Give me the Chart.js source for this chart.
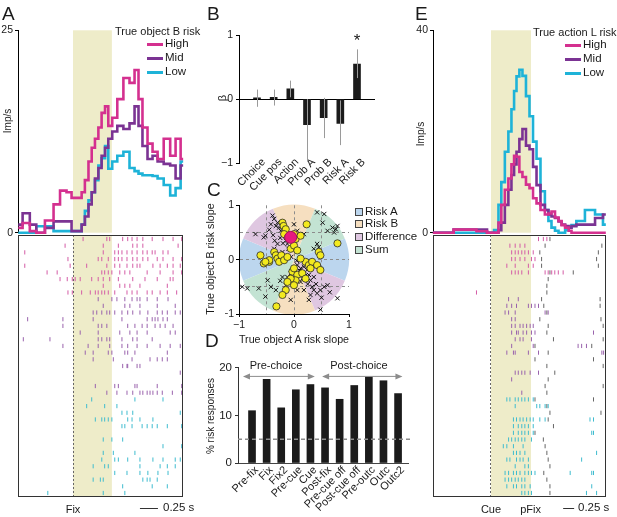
<!DOCTYPE html>
<html>
<head>
<meta charset="utf-8">
<title>Risk coding</title>
<script src="https://cdn.jsdelivr.net/npm/chart.js@4.4.1/dist/chart.umd.min.js"></script>
<style>
  html, body { margin: 0; padding: 0; background: #fff; }
  #fig { position: relative; width: 617px; height: 517px; overflow: hidden;
         font-family: "Liberation Sans", Arial, Helvetica, sans-serif; color: #1a1a1a; }
  #fig canvas { position: absolute; }
  .txt { position: absolute; white-space: nowrap; font-size: 11px; line-height: 1.15; }
  .key { position: absolute; height: 3px; width: 16px; }
  .sq { position: absolute; width: 6px; height: 6px; border: 1px solid #444; }
</style>
</head>
<body>
<div id="fig"></div>
<script>
// ---------- A: firing rate by true object B risk (time from fixation, s) ----------
const timeA = [-0.76,-0.64,-0.56,-0.46,-0.32,-0.22,-0.14,-0.04,0,0.10,0.14,0.19,0.24,0.28,0.33,0.375,0.42,0.47,0.51,0.58,0.65,0.75,0.82,0.89,0.93,1.0,1.07,1.14,1.21,1.31,1.39,1.46,1.53];
const highA = [0.6,1.2,0.2,0,1.5,3.5,5.2,5.0,4.3,4.3,5.0,6.5,8.8,10.5,11.6,13,14.8,15.6,13.2,14.2,16.5,19.1,18.5,20.1,16.5,13,11,10,9.1,11.6,9.5,11.6,9.1];
const midA  = [1,2.4,1,0,0.6,1.4,1.4,1.4,0.2,0.2,1,2,3.5,5,6.7,8,9.5,10.5,11.6,12.5,13.2,12.8,13.5,15.6,13.2,10.7,9.1,9.5,8.8,8.5,8.3,6.7,8.3];
const lowA  = [0,0,0,0.8,0.8,0.2,0.2,0.2,0.2,0.2,1,2.7,4.0,5.0,6.5,8.3,9.2,10.7,7.9,8.8,9.5,10,8,7.6,7.3,7.1,7.1,7,6.7,5.9,4.6,5.5,8.8];

// spike times per trial (s from fixation), grouped by risk level
const rasterA_high = [
  [0.14,0.47,0.51,0.69,0.76,0.82,0.89,0.97,1.10,1.25,1.39,1.51],
  [-0.11,0.42,0.63,0.83,0.89,0.97,1.46],
  [-0.67,0.42,0.58,0.63,0.68,0.75,0.82,0.89,0.97,1.03,1.10,1.14,1.25,1.32],
  [-0.07,0.35,0.40,0.49,0.58,0.63,0.68,0.75,0.83,0.89,0.97,1.04,1.17,1.25,1.39,1.51],
  [-0.67,-0.04,0.19,0.47,0.58,0.65,0.75,0.83,0.89,0.93,1.11,1.21,1.31,1.39,1.49],
  [-0.36,-0.22,0.40,0.44,0.49,0.54,0.65,0.72,0.79,1.03,1.21,1.39,1.51],
  [-0.18,-0.08,-0.01,0.03,0.10,0.26,0.35,0.42,0.51,0.63,0.83,1.00,1.17,1.35,1.39],
  [0.42,0.65,0.72,0.79,0.93,1.31],
  [-0.07,-0.01,0.12,0.24,0.31,0.35,0.40,0.44,0.49,0.58,0.75,0.82,0.89,1.03,1.10,1.21,1.31,1.44]
];
const rasterA_mid = [
  [0.35,0.54,0.61,0.72,0.82,0.89,0.93,1.03,1.17,1.32],
  [0.42,0.72,0.79,0.93,1.17,1.42],
  [0.28,0.33,0.40,0.47,0.51,0.58,0.68,0.76,0.83,0.93,1.04,1.17,1.24,1.31,1.42,1.49],
  [-0.63,-0.14,0.28,0.68,1.03,1.10,1.14,1.18,1.25,1.31],
  [-0.14,0.35,0.40,0.47,0.76,0.86,0.96,1.03,1.14,1.21,1.28,1.39],
  [0.10,0.35,0.65,0.79,0.89,1.03,1.35,1.42],
  [-0.69,-0.32,0.35,0.40,0.47,0.51,0.68,0.83,0.89,1.10],
  [-0.14,0.21,0.35,0.51,0.68,0.76,0.89,1.03,1.21,1.35,1.49],
  [0.17,0.28,0.49,0.54,0.72,0.76,0.86,1.31],
  [0.28,0.56,0.82,1.07,1.17,1.24,1.31],
  [0.69,0.75,0.76,0.89,0.93],
  [1.49],
  [],
  [0.31,0.58,0.63,0.86,0.89,1.17,1.51],
  [0.47,0.61,0.75,0.83,0.93,0.97,1.03,1.07,1.11,1.17,1.24,1.38,1.51]
];
const rasterA_low = [
  [0.26,0.86,1.25],
  [0.19,0.44,0.61],
  [0.68,0.75,0.83,1.49],
  [0.31,0.40,0.44,0.49,0.54,0.76,0.82,0.93,1.11],
  [0.68,0.72,0.82,0.96,1.03,1.10,1.17,1.31,1.51],
  [],
  [0.42,0.54,0.69],
  [1.25,1.51],
  [0.42,0.56,0.86],
  [0.40,0.58,0.63,0.76,0.93,1.11,1.25,1.42,1.49],
  [0.28,0.44,0.49,0.93,1.21,1.31,1.42],
  [0.58,0.75,0.93,1.04,1.18,1.32],
  [0.28,0.38,0.42,0.97,1.03,1.07,1.17],
  [0.69,1.10,1.31],
  [-0.35,0.42,0.72]
];

// ---------- B: regression coefficients ----------
const betaLabels = ['Choice','Cue pos','Action','Prob A','Prob B','Risk A','Risk B'];
const betaValues = [0.02,0.03,0.16,-0.40,-0.29,-0.38,0.55];
const betaLow    = [-0.12,-0.10,0.03,-0.98,-0.61,-0.72,0.33];
const betaHigh   = [0.15,0.15,0.29,0.0,0.02,-0.02,0.78];

// ---------- C: risk slopes, object A vs object B ----------
const zoneNames  = ['Risk A','Risk B','Difference','Sum'];
const zoneAngles = [0, 90, 135, 45];   // wedge centre (deg), each zone also owns the opposite wedge
const crossPts = [
  [-0.39,0.81],[-0.36,0.75],[-0.30,0.68],[-0.33,0.62],[-0.27,0.59],[-0.24,0.53],[-0.19,0.47],[-0.42,0.65],
  [-0.52,0.44],[-0.55,0.41],[-0.70,0.47],[-0.15,0.35],[-0.12,0.29],[-0.30,0.29],[-0.36,0.20],[-0.21,0.14],
  [-0.27,0.08],[0.00,0.65],[0.18,0.47],[0.06,0.53],[0.42,0.87],[0.55,0.84],[0.52,0.68],[0.61,0.53],
  [0.70,0.59],[0.76,0.56],[0.73,0.50],[0.79,0.62],[0.42,0.29],[0.45,0.23],[0.36,0.20],
  [0.06,-0.10],[0.12,-0.16],[0.18,-0.13],[0.24,-0.19],[0.27,-0.28],[0.30,-0.38],[0.33,-0.50],[0.36,-0.56],
  [0.42,-0.62],[0.48,-0.56],[0.55,-0.50],[0.61,-0.47],[0.36,-0.32],[0.48,-0.92],[0.79,-0.71],[0.21,-0.04],
  [-0.06,-0.25],[-0.12,-0.32],[-0.21,-0.32],[-0.25,-0.39],[-0.94,-0.50],[-0.85,-0.53],[-0.64,-0.53],
  [-0.52,-0.68],[-0.33,-0.56],[-0.15,-0.47],[-0.06,-0.74],[0.12,-0.41],[0.18,-0.56],[0.27,-0.74],
  [0.06,-0.56],[-0.42,-0.50],[-0.48,-0.38],[-0.45,0.55],[-0.38,0.45],[-0.25,0.40],[-0.20,0.30],
  [-0.10,0.20],[0.10,-0.20],[0.20,-0.30],[0.15,-0.35],[0.25,-0.45],[0.40,-0.45],[0.30,-0.65],
  [-0.35,0.35],[-0.05,0.05],[0.05,-0.02],[0.50,-0.70],[0.65,-0.60]
];
const yellowPts = [
  [-0.21,0.68],[-0.19,0.62],[-0.15,0.56],[-0.18,0.47],[-0.11,0.41],[0.00,0.47],[0.03,0.38],[0.12,0.44],
  [0.23,0.65],[0.79,0.30],[0.45,0.14],[0.48,0.08],[-0.61,0.08],[-0.55,-0.07],[-0.45,-0.04],[-0.36,0.14],
  [-0.33,0.08],[-0.30,0.02],[-0.27,-0.04],[-0.23,0.08],[-0.18,-0.01],[-0.12,0.05],[-0.06,0.20],[0.00,0.26],
  [0.06,0.17],[-0.03,-0.22],[0.00,-0.16],[0.06,-0.28],[0.03,-0.38],[-0.06,-0.35],[-0.12,-0.41],[-0.15,-0.56],
  [-0.21,-0.65],[-0.32,-0.86],[0.00,-0.47],[0.15,-0.25],[0.21,-0.04],[0.27,-0.10],[0.33,-0.04],[0.42,-0.10],
  [0.48,-0.19],[0.30,-0.16],[0.12,0.02],[-0.45,-0.01],[-0.52,-0.04],[0.21,-0.35]
];
const examplePt = [[-0.06,0.41]];

// ---------- D: percentage of risk responses by task epoch ----------
const epochLabels = ['Pre-fix','Fix','Fix2','Pre-cue','Cue','Post-fix','Pre-cue off','Post-cue off','Pre-outc','Outc','Outc2'];
const riskPct = [11.0,17.6,11.6,15.4,16.5,15.8,13.4,16.3,18.1,17.3,14.6];
const chancePct = 5;

// ---------- E: firing rate by true action L risk (time from cue, s) ----------
const timeE = [-1.32,-0.93,-0.77,-0.48,-0.18,0,0.14,0.2,0.27,0.36,0.43,0.5,0.55,0.61,0.68,0.75,0.84,0.91,1.0,1.07,1.18,1.27,1.34,1.41,1.5,1.57,1.64,1.73,1.8,1.86,2.02,2.25,2.48,2.61];
const highE = [0,0,0.6,0.6,0.3,0,0,2,5.5,8.5,10.7,13.5,15.2,15,12,11,9.5,8.8,6.8,5.8,4.5,3.6,3.8,4.2,3,2.3,1.5,1,0.4,0,0,0,0,0];
const midE  = [0,0,0.6,0.6,0.6,0,0,0.5,2,5.5,8.5,11.4,13.5,16,18.5,20.5,17.2,16.5,13,9.4,5.5,4.5,3.6,3.2,2.9,2.2,1.6,1.3,1,1.3,1.6,1.6,2.9,3.6];
const lowE  = [0,0,0,0,0,0,0.5,5.5,10,16,20,24.4,28,30.9,32.2,31,27,23,18,14.6,8.2,4.5,2.3,1,0.4,0,0,0.5,1,1.5,2.3,4.5,3.6,1.6];

const rasterE_high = [
  [1.08,1.19,1.27],
  [0.43,0.55,0.66,0.77],
  [0.47,0.55,0.62,0.70,0.77,0.85,0.96],
  [0.47,0.55,0.66,0.77,0.92,1.00],
  [0.36,0.55,0.85,0.96],
  [0.47,0.55,0.62,0.70,0.85,1.23,1.30,1.38,1.45,1.53,1.64],
  [],
  [],
  [-0.33]
];
const rasterE_mid = [
  [0.40,0.62],
  [0.36,0.47,0.58,0.85,0.92,1.00,1.08],
  [0.32,0.40,0.55,1.23,1.30],
  [0.47,0.55],
  [0.47,0.55,0.66,0.73,0.81,0.89,0.96],
  [0.47,0.58,0.62,0.73,0.81,0.92,1.00,2.33],
  [0.55,0.66,0.73,0.92],
  [0.47,0.96,1.98,2.06,2.17],
  [0.36,0.51,0.55,0.85,1.08,2.52,2.56],
  [],
  [],
  [0.55,0.62,0.70,0.77,0.89,1.08],
  [0.47],
  [],
  [0.70]
];
const rasterE_low = [
  [0.36,0.43,0.55,0.62,0.70,0.77,0.85,0.96],
  [0.55,1.04,1.11,1.23,1.30],
  [],
  [0.51,0.58,0.66,0.73,0.81,0.89,0.96,1.11,1.23,2.25,2.33],
  [0.51,0.62,0.70,0.77,0.85,0.96],
  [0.51,0.62,0.70,0.77,0.85,0.96,2.29,2.33],
  [0.40,0.47,0.55,0.62,0.70,0.77,0.92],
  [0.28,0.36,0.51,0.73],
  [0.51,0.58,0.66,0.77,2.40],
  [0.36,0.43,0.58,0.66,0.73,0.85,2.06],
  [0.55,0.77,0.85],
  [0.32,0.40,0.51,0.58,0.66,0.77,0.85,0.92,1.00,1.80,2.29,2.33],
  [0.32,0.40,0.47,0.55,0.62,0.70,0.77],
  [0.36,0.51,0.58,0.70,0.77,0.89,2.29],
  [0.70,0.77,0.85,0.92,2.17,2.40]
];
// trial event marks (post-fixation), one array per trial row
const eventsE = [
  [1.34],[1.23,2.52],[1.11,2.44],[1.15,2.40],[1.15,2.44],[1.34,1.87],[1.30],[1.27],[1.27],
  [1.15,2.48],[1.20,2.48],[1.27],[1.11,2.50],[1.30,2.55],[1.27],[1.42,2.55],[1.00,2.29],[1.30],
  [1.00,2.33],[1.27,2.55],[1.45],[1.30],[1.23,2.55],[1.27],
  [1.00,2.33],[1.27],[1.34,2.50],[1.30],[1.42],[1.00],[1.19],[1.23],[1.27],[1.30],[1.34],[1.20],[1.27],[1.34],[1.34]
];

// ---------- styles ----------
const COL = { high: '#d4308f', mid: '#7b3393', low: '#1eb3d8' };
const TICK_COL = { high: '#d45ca6', mid: '#9a63ad', low: '#3fbccf' };
const BAND = '#eeecc9';
const ZONE_COL = ['#bcd6ee', '#f6dfc0', '#dfc7e1', '#c3e3d3'];

Chart.defaults.font.family = '"Liberation Sans", Arial, Helvetica, sans-serif';
Chart.defaults.font.size = 11;
Chart.defaults.color = '#1a1a1a';
Chart.defaults.animation = false;
Chart.defaults.events = [];
Chart.defaults.plugins.legend.display = false;
Chart.defaults.plugins.tooltip.enabled = false;

const fig = document.getElementById('fig');
const fixW = w => s => { s.width = w; };
const fixH = h => s => { s.height = h; };
const minus = v => (v < 0 ? '\u2212' + Math.abs(v) : String(v));

// canvas placed so that the chart area lands on the given box
function makeCanvas(area, yW, xH, pad) {
  const c = document.createElement('canvas');
  c.width = pad.left + yW + (area.r - area.l) + pad.right;
  c.height = pad.top + (area.b - area.t) + xH + pad.bottom;
  c.style.left = (area.l - yW - pad.left) + 'px';
  c.style.top = (area.t - pad.top) + 'px';
  fig.appendChild(c);
  return c;
}

function addText(str, x, y, o = {}) {
  const d = document.createElement('div');
  d.className = 'txt';
  d.textContent = str;
  d.style.left = x + 'px';
  d.style.top = y + 'px';
  if (o.size) d.style.fontSize = o.size + 'px';
  const tx = o.align === 'left' ? '0' : '-50%';
  d.style.transform = 'translate(' + tx + ',-50%)' + (o.rot ? ' rotate(-90deg)' : '');
  fig.appendChild(d);
  return d;
}

// shaded epoch band
const bandPlugin = {
  id: 'band',
  beforeDraw(chart, args, opts) {
    const { ctx, chartArea: a, scales: { x } } = chart;
    const x0 = x.getPixelForValue(opts.from), x1 = x.getPixelForValue(opts.to);
    ctx.save();
    ctx.fillStyle = BAND;
    ctx.fillRect(x0, a.top, x1 - x0, a.bottom - a.top);
    ctx.restore();
  }
};

// raster box + time scale bar
const framePlugin = {
  id: 'frame',
  afterDraw(chart, args, opts) {
    const { ctx, chartArea: a, scales: { x } } = chart;
    ctx.save();
    ctx.strokeStyle = '#333';
    ctx.lineWidth = 1;
    ctx.strokeRect(a.left + 0.5, a.top + 0.5, a.right - a.left - 1, a.bottom - a.top - 1);
    const y = Math.round(a.bottom + 11) + 0.5;
    ctx.beginPath();
    ctx.moveTo(x.getPixelForValue(opts.barStart), y);
    ctx.lineTo(x.getPixelForValue(opts.barStart + opts.barLen), y);
    ctx.stroke();
    ctx.restore();
  }
};

function psthChart(area, time, series, yMax, xRange, band) {
  const pad = { left: 0, top: 8, right: 6, bottom: 6 };
  const c = makeCanvas(area, 18, 0, pad);
  return new Chart(c, {
    type: 'line',
    data: {
      datasets: series.map(s => ({
        data: time.map((t, i) => ({ x: t, y: s.values[i] })),
        borderColor: s.color, borderWidth: 2.6, pointRadius: 0, stepped: 'middle', clip: 6
      }))
    },
    options: {
      responsive: false,
      layout: { padding: pad },
      scales: {
        x: { type: 'linear', display: false, min: xRange[0], max: xRange[1] },
        y: {
          min: 0, max: yMax,
          afterBuildTicks: s => { s.ticks = [{ value: 0 }, { value: yMax }]; },
          ticks: { padding: 2, font: { size: 10.5 } },
          grid: { drawOnChartArea: false, tickLength: 3, color: '#000' },
          border: { color: '#000' },
          afterFit: fixW(18)
        }
      },
      plugins: { band }
    },
    plugins: [bandPlugin]
  });
}

function toPoints(rows, offset) {
  const pts = [];
  rows.forEach((row, i) => row.forEach(t => pts.push({ x: t, y: offset + i })));
  return pts;
}

function rasterChart(area, groups, marks, xRange, band, xTicks, bar) {
  const pad = { left: 5, top: 5, right: 5, bottom: 3 };
  const c = makeCanvas(area, 0, 22, pad);
  const datasets = [];
  let offset = 0;
  groups.forEach(g => {
    datasets.push({ data: toPoints(g.rows, offset), borderColor: g.color });
    offset += g.rows.length;
  });
  if (marks) datasets.push({ data: toPoints(marks, 0), borderColor: '#666' });
  datasets.forEach(d => Object.assign(d, { pointStyle: 'line', rotation: 90, radius: 2.1, borderWidth: 1 }));
  return new Chart(c, {
    type: 'scatter',
    data: { datasets },
    options: {
      responsive: false,
      layout: { padding: pad },
      scales: {
        x: {
          type: 'linear', min: xRange[0], max: xRange[1],
          afterBuildTicks: s => { s.ticks = xTicks.values.map(v => ({ value: v })); },
          ticks: { padding: 6, callback: v => xTicks.names[xTicks.values.indexOf(v)] },
          grid: { drawTicks: false, color: ctx => (ctx.tick && ctx.tick.value === 0 ? '#666' : 'transparent') },
          border: { display: false, dash: [2, 2] },
          afterFit: fixH(22)
        },
        y: { display: false, min: -0.6, max: offset - 0.4, reverse: true }
      },
      plugins: { band, frame: bar }
    },
    plugins: [bandPlugin, framePlugin]
  });
}

// ===== Panel A =====
const rangeA = [-0.764, 1.528];
rasterChart({ l: 18, t: 235, r: 183, b: 497 },
  [{ rows: rasterA_high, color: TICK_COL.high }, { rows: rasterA_mid, color: TICK_COL.mid }, { rows: rasterA_low, color: TICK_COL.low }],
  null, rangeA, { from: 0, to: 0.54 }, { values: [0], names: ['Fix'] }, { barStart: 0.93, barLen: 0.25 });
psthChart({ l: 18, t: 30, r: 183, b: 235 }, timeA,
  [{ values: highA, color: COL.high }, { values: midA, color: COL.mid }, { values: lowA, color: COL.low }],
  25, rangeA, { from: 0, to: 0.54 });

// ===== Panel E =====
const rangeE = [-1.318, 2.614];
rasterChart({ l: 433, t: 235, r: 606, b: 497 },
  [{ rows: rasterE_high, color: TICK_COL.high }, { rows: rasterE_mid, color: TICK_COL.mid }, { rows: rasterE_low, color: TICK_COL.low }],
  eventsE, rangeE, { from: 0, to: 0.91 }, { values: [0, 0.9], names: ['Cue', 'pFix'] }, { barStart: 1.64, barLen: 0.25 });
psthChart({ l: 433, t: 30, r: 606, b: 235 }, timeE,
  [{ values: highE, color: COL.high }, { values: midE, color: COL.mid }, { values: lowE, color: COL.low }],
  40, rangeE, { from: 0, to: 0.91 });

// ===== Panel B =====
const errorBarPlugin = {
  id: 'errorBars',
  afterDatasetsDraw(chart) {
    const { ctx, scales: { x, y } } = chart;
    ctx.save();
    ctx.strokeStyle = '#9a9a9a';
    ctx.lineWidth = 1;
    betaLow.forEach((lo, i) => {
      const px = Math.round(x.getPixelForValue(i)) + 0.5;
      ctx.beginPath();
      ctx.moveTo(px, y.getPixelForValue(lo));
      ctx.lineTo(px, y.getPixelForValue(betaHigh[i]));
      ctx.stroke();
    });
    ctx.restore();
  }
};
{
  const pad = { left: 34, top: 6, right: 8, bottom: 2 };
  const c = makeCanvas({ l: 239, t: 32, r: 375, b: 163 }, 20, 50, pad);
  new Chart(c, {
    type: 'bar',
    data: { datasets: [{ data: betaValues.map((v, i) => ({ x: i, y: v })), backgroundColor: '#1b1b1b', barThickness: 7 }] },
    options: {
      responsive: false,
      layout: { padding: pad },
      scales: {
        x: {
          type: 'linear', min: -1.08, max: 7.08, offset: false,
          afterBuildTicks: s => { s.ticks = betaLabels.map((_, i) => ({ value: i })); },
          // mirror only to lift the label clip so names may tuck up under the bars
          ticks: { autoSkip: false, minRotation: 45, maxRotation: 45, mirror: true, padding: -2, labelOffset: 16, callback: v => betaLabels[v] },
          grid: { display: false, drawTicks: false, offset: false }, border: { display: false },
          afterFit: fixH(50)
        },
        y: {
          min: -1, max: 1,
          afterBuildTicks: s => { s.ticks = [{ value: -1 }, { value: 0 }, { value: 1 }]; },
          ticks: { padding: 3, font: { size: 10.5 }, callback: minus },
          grid: { tickLength: 3, tickColor: '#000', color: ctx => (ctx.tick && ctx.tick.value === 0 ? '#000' : 'transparent') },
          border: { color: '#000' },
          afterFit: fixW(20)
        }
      }
    },
    plugins: [errorBarPlugin]
  });
}

// ===== Panel C =====
const zonePlugin = {
  id: 'zones',
  beforeDraw(chart) {
    const { ctx, scales: { x, y } } = chart;
    const cx = x.getPixelForValue(0), cy = y.getPixelForValue(0);
    const r = x.getPixelForValue(1) - cx;
    ctx.save();
    zoneAngles.forEach((deg, i) => {
      [deg, deg + 180].forEach(d => {
        ctx.beginPath();
        ctx.moveTo(cx, cy);
        ctx.arc(cx, cy, r, -(d + 22.5) * Math.PI / 180, -(d - 22.5) * Math.PI / 180);
        ctx.closePath();
        ctx.fillStyle = ZONE_COL[i];
        ctx.fill();
      });
    });
    ctx.restore();
  }
};
{
  const pad = { left: 2, top: 7, right: 6, bottom: 2 };
  const c = makeCanvas({ l: 239, t: 204, r: 350, b: 314 }, 14, 16, pad);
  const slopeTicks = s => { s.ticks = [-1, -0.5, 0, 0.5, 1].map(v => ({ value: v })); };
  const slopeAxis = {
    min: -1, max: 1,
    afterBuildTicks: slopeTicks,
    ticks: { padding: 2, font: { size: 10.5 }, callback: v => (Math.abs(v) === 0.5 ? '' : minus(v)) },
    grid: {
      tickLength: 3,
      color: ctx => (ctx.tick && Math.abs(ctx.tick.value) < 1 ? '#8c8c8c' : 'transparent'),
      tickColor: ctx => (ctx.tick && Math.abs(ctx.tick.value) === 0.5 ? 'transparent' : '#000')
    },
    border: { color: '#000', dash: [3, 3] }
  };
  const toXY = p => ({ x: p[0], y: p[1] });
  new Chart(c, {
    type: 'scatter',
    data: {
      datasets: [
        { data: examplePt.map(toXY), pointStyle: 'circle', radius: 6, backgroundColor: '#e8197f', borderColor: '#a3135d', borderWidth: 1 },
        { data: yellowPts.map(toXY), pointStyle: 'circle', radius: 3.6, backgroundColor: '#f3ea1f', borderColor: '#2a2a2a', borderWidth: 0.8 },
        { data: crossPts.map(toXY), pointStyle: 'crossRot', radius: 3, borderColor: '#151515', borderWidth: 1 }
      ]
    },
    options: {
      responsive: false,
      layout: { padding: pad },
      scales: {
        x: Object.assign({ type: 'linear', afterFit: fixH(16) }, slopeAxis),
        y: Object.assign({ type: 'linear', afterFit: fixW(14) }, slopeAxis)
      }
    },
    plugins: [zonePlugin]
  });
}

// ===== Panel D =====
const epochPlugin = {
  id: 'epochs',
  afterDatasetsDraw(chart) {
    const { ctx, chartArea: a, scales: { x, y } } = chart;
    ctx.save();
    // chance level
    const yc = y.getPixelForValue(chancePct);
    ctx.strokeStyle = '#8c8c8c';
    ctx.lineWidth = 1.5;
    ctx.setLineDash([4, 3]);
    ctx.beginPath();
    ctx.moveTo(a.left, yc);
    ctx.lineTo(a.right + 4, yc);
    ctx.stroke();
    ctx.setLineDash([]);
    // pre-choice / post-choice spans
    const ya = a.top + 8.5;
    ctx.lineWidth = 1;
    ctx.fillStyle = '#8c8c8c';
    [[-0.62, 4.3], [4.8, 10.3]].forEach(([f, t]) => {
      const x0 = x.getPixelForValue(f), x1 = x.getPixelForValue(t);
      ctx.beginPath();
      ctx.moveTo(x0 + 4, ya);
      ctx.lineTo(x1 - 4, ya);
      ctx.stroke();
      ctx.beginPath();
      ctx.moveTo(x0, ya); ctx.lineTo(x0 + 7, ya - 3); ctx.lineTo(x0 + 7, ya + 3); ctx.closePath();
      ctx.moveTo(x1, ya); ctx.lineTo(x1 - 7, ya - 3); ctx.lineTo(x1 - 7, ya + 3); ctx.closePath();
      ctx.fill();
    });
    ctx.restore();
  }
};
{
  const pad = { left: 34, top: 8, right: 6, bottom: 2 };
  const c = makeCanvas({ l: 238, t: 366, r: 408, b: 463 }, 22, 52, pad);
  new Chart(c, {
    type: 'bar',
    data: { datasets: [{ data: riskPct.map((v, i) => ({ x: i, y: v })), backgroundColor: '#1b1b1b', barThickness: 7 }] },
    options: {
      responsive: false,
      layout: { padding: pad },
      scales: {
        x: {
          type: 'linear', min: -0.96, max: 10.68, offset: false,
          afterBuildTicks: s => { s.ticks = epochLabels.map((_, i) => ({ value: i })); },
          ticks: { autoSkip: false, minRotation: 45, maxRotation: 45, mirror: true, padding: -10, labelOffset: 14, callback: v => epochLabels[v] },
          grid: { display: false, drawTicks: false, offset: false }, border: { color: '#444' },
          afterFit: fixH(52)
        },
        y: {
          min: 0, max: 20,
          afterBuildTicks: s => { s.ticks = [{ value: 0 }, { value: 10 }, { value: 20 }]; },
          ticks: { padding: 3, font: { size: 11.5 } },
          grid: { drawOnChartArea: false, tickLength: 3, color: '#333' },
          border: { color: '#333' },
          afterFit: fixW(22)
        }
      }
    },
    plugins: [epochPlugin]
  });
}

// ===== text: letters, axis titles, legends =====
[['A', 2, 14], ['B', 207, 14], ['C', 207, 190], ['D', 205, 341], ['E', 415, 14]]
  .forEach(([s, x, y]) => addText(s, x, y, { align: 'left', size: 19 }));

addText('Imp/s', 8, 121, { rot: true, size: 10 });
addText('Imp/s', 421, 134, { rot: true, size: 10 });
addText('0.25 s', 163, 508, { align: 'left', size: 11.5 });
addText('0.25 s', 578, 508, { align: 'left', size: 11.5 });

function lineLegend(title, x, y, keyX, items) {
  addText(title, x, y, { align: 'left', size: 11 });
  items.forEach((it, i) => {
    const yy = y + 13 + i * 14;
    const k = document.createElement('div');
    k.className = 'key';
    k.style.left = keyX + 'px';
    k.style.top = (yy - 1.5) + 'px';
    k.style.background = it.color;
    fig.appendChild(k);
    addText(it.name, keyX + 18, yy, { align: 'left', size: 11.5 });
  });
}
const riskKeys = [{ name: 'High', color: COL.high }, { name: 'Mid', color: COL.mid }, { name: 'Low', color: COL.low }];
lineLegend('True object B risk', 115, 31, 147, riskKeys);
lineLegend('True action L risk', 533, 32, 565, riskKeys);

addText('\u03B2', 222, 98, { rot: true, size: 11 });
addText('*', 357, 41, { size: 17 });

addText('True object B risk slope', 210, 259, { rot: true, size: 10.7 });
addText('True object A risk slope', 294, 339, { size: 10.7 });
zoneNames.forEach((n, i) => {
  const yy = 211.5 + i * 12.8;
  const s = document.createElement('div');
  s.className = 'sq';
  s.style.left = '355px';
  s.style.top = (yy - 4) + 'px';
  s.style.background = ZONE_COL[i];
  fig.appendChild(s);
  addText(n, 365, yy, { align: 'left', size: 11.5 });
});

addText('% risk responses', 211, 416, { rot: true, size: 10 });
addText('Pre-choice', 276, 365, { size: 11 });
addText('Post-choice', 359, 365, { size: 11 });
</script>
</body>
</html>
